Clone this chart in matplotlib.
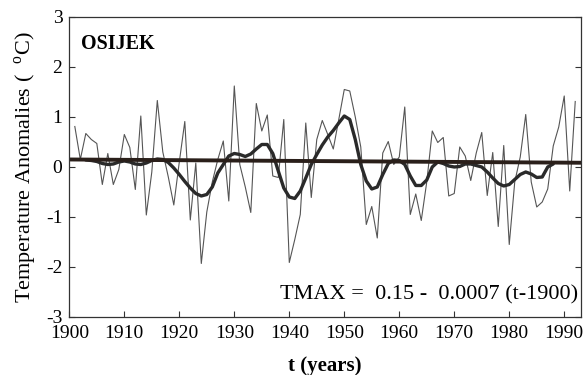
import matplotlib
matplotlib.use("Agg")
import matplotlib.pyplot as plt
import numpy as np

plt.rcParams['font.family'] = ['Liberation Serif', 'DejaVu Serif']
plt.rcParams['mathtext.fontset'] = 'custom'
plt.rcParams['mathtext.rm'] = 'Liberation Serif'
plt.rcParams['axes.unicode_minus'] = False

years = list(range(1901, 1993))
anomaly = [0.81, 0.15, 0.67, 0.55, 0.47, -0.35, 0.27, -0.35, -0.05, 0.65,
           0.39, -0.45, 1.02, -0.96, -0.10, 1.33, 0.30, -0.20, -0.76, 0.10,
           0.91, -1.06, 0.08, -1.93, -0.90, -0.30, 0.15, 0.52, -0.68, 1.62,
           0.05, -0.40, -0.91, 1.27, 0.72, 1.04, -0.18, -0.21, 0.95, -1.91,
           -1.45, -0.95, 0.88, -0.61, 0.55, 0.93, 0.65, 0.36, 0.95, 1.55,
           1.52, 1.00, 0.40, -1.15, -0.79, -1.42, 0.28, 0.51, 0.05, 0.20,
           1.20, -0.95, -0.54, -1.07, -0.30, 0.72, 0.49, 0.59, -0.58, -0.53,
           0.40, 0.22, -0.27, 0.28, 0.69, -0.57, 0.29, -1.19, 0.43, -1.55,
           -0.30, 0.20, 1.05, -0.30, -0.80, -0.70, -0.44, 0.42, 0.80, 1.42,
           -0.48, 1.31]

smooth_years = list(range(1903, 1989))
smooth = [0.14, 0.13, 0.11, 0.07, 0.05, 0.06, 0.10, 0.12, 0.10, 0.06,
          0.05, 0.08, 0.13, 0.16, 0.15, 0.09, -0.02, -0.15, -0.29, -0.42,
          -0.53, -0.58, -0.55, -0.40, -0.12, 0.05, 0.22, 0.27, 0.25, 0.21,
          0.26, 0.36, 0.45, 0.45, 0.27, -0.08, -0.42, -0.60, -0.63, -0.48,
          -0.22, 0.05, 0.25, 0.44, 0.60, 0.73, 0.88, 1.02, 0.95, 0.55,
          0.05, -0.28, -0.44, -0.40, -0.15, 0.07, 0.14, 0.13, 0.05, -0.18,
          -0.37, -0.37, -0.26, 0.00, 0.10, 0.07, 0.02, 0.00, 0.01, 0.06,
          0.06, 0.03, 0.00, -0.10, -0.22, -0.33, -0.38, -0.35, -0.25, -0.15,
          -0.10, -0.14, -0.21, -0.20, 0.00, 0.06]

trend_years = [1900, 1993]
trend_intercept = 0.15
trend_slope = -0.0007

xticks = [1900, 1910, 1920, 1930, 1940, 1950, 1960, 1970, 1980, 1990]
yticks = [-3, -2, -1, 0, 1, 2, 3]

fig = plt.figure(figsize=(5.84, 3.75), dpi=100)
ax = fig.add_axes([0.1187, 0.1547, 0.8757, 0.80])

ax.plot(years, anomaly, color='#555555', lw=0.8)
ax.plot(smooth_years, smooth, color='#2a2a2a', lw=2.4, solid_capstyle='round')
ty = np.array(trend_years, dtype=float)
ax.plot(ty, trend_intercept + trend_slope * (ty - 1900), color='#2a1f1a', lw=2.8)

ax.set_xlim(1900, 1993)
ax.set_ylim(-3, 3)
ax.set_xticks(xticks)
ax.set_yticks(yticks)
ax.tick_params(direction='in', length=4, labelsize=14, top=False, right=True,
               color='#333333')
ax.tick_params(axis='x', pad=6)
ax.tick_params(axis='y', pad=5)
for s in ax.spines.values():
    s.set_linewidth(0.9)
    s.set_color('#333333')

ax.set_ylabel('Temperature Anomalies (  $^{\\rm o}$C)', fontsize=16, labelpad=5)
ax.set_xlabel('t (years)', fontsize=15, fontweight='bold', labelpad=10)

ax.text(0.022, 0.91, 'OSIJEK', transform=ax.transAxes, fontsize=14.5,
        fontweight='bold', ha='left', va='center')
ax.text(0.995, 0.075, 'TMAX =  0.15 -  0.0007 (t-1900)', transform=ax.transAxes,
        fontsize=16, ha='right', va='center')

fig.savefig('out.png', dpi=100)
